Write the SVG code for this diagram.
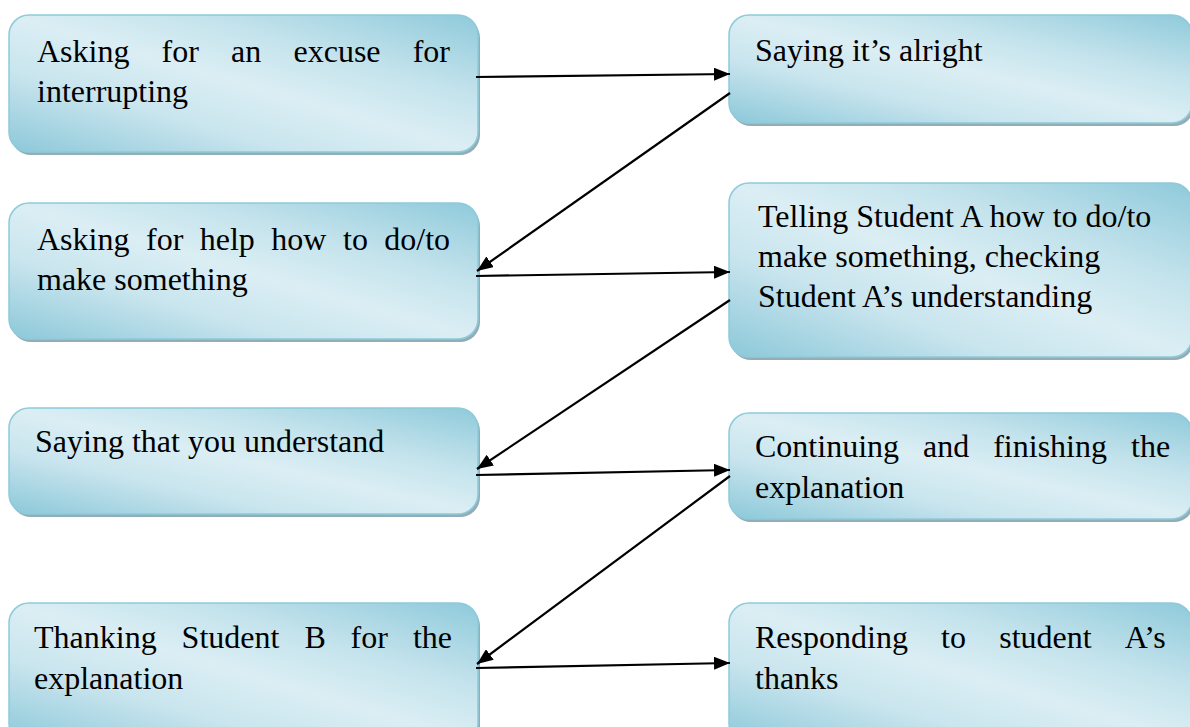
<svg xmlns="http://www.w3.org/2000/svg" width="1190" height="727" viewBox="0 0 1190 727">
  <defs>
    <linearGradient id="boxFill" x1="1" y1="0" x2="0" y2="1">
      <stop offset="0" stop-color="#8fcadb"/>
      <stop offset="0.3" stop-color="#c4e3ec"/>
      <stop offset="0.5" stop-color="#dbeef4"/>
      <stop offset="0.7" stop-color="#c9e5ee"/>
      <stop offset="1" stop-color="#8cc8d9"/>
    </linearGradient>
    <marker id="arrow" markerUnits="userSpaceOnUse" markerWidth="17" markerHeight="13" refX="16" refY="6.5" orient="auto">
      <path d="M0,0 L16,6.5 L0,13 z" fill="#000"/>
    </marker>
  </defs>
  <style>
    .shadow { fill: #93adb7; }
    .box { fill: url(#boxFill); stroke: #8dcada; stroke-width: 1.5; }
    .label { font-family: "Liberation Serif", "Times New Roman", serif; font-size: 32px; fill: #000; }
    .link { stroke: #000; stroke-width: 2.2; fill: none; marker-end: url(#arrow); }
  </style>
  <rect width="1190" height="727" fill="#fff"/>

  <!-- left column -->
  <g id="node-excuse">
    <rect class="shadow" x="11" y="18" width="469" height="137" rx="20"/>
    <rect class="box" x="9" y="15" width="469" height="137" rx="20"/>
    <text class="label"><tspan x="37" y="62">Asking</tspan><tspan x="161.6" y="62">for</tspan><tspan x="231.1" y="62">an</tspan><tspan x="293.5" y="62">excuse</tspan><tspan x="412.7" y="62">for</tspan><tspan x="37" y="102">interrupting</tspan></text>
  </g>
  <g id="node-ask-help">
    <rect class="shadow" x="11" y="206" width="469" height="136" rx="20"/>
    <rect class="box" x="9" y="203" width="469" height="136" rx="20"/>
    <text class="label"><tspan x="37" y="250">Asking</tspan><tspan x="146" y="250">for</tspan><tspan x="199.7" y="250">help</tspan><tspan x="271.3" y="250">how</tspan><tspan x="343" y="250">to</tspan><tspan x="384.3" y="250">do/to</tspan><tspan x="37" y="290">make something</tspan></text>
  </g>
  <g id="node-understand">
    <rect class="shadow" x="11" y="411" width="469" height="106" rx="20"/>
    <rect class="box" x="9" y="408" width="469" height="106" rx="20"/>
    <text class="label" x="35" y="452">Saying that you understand</text>
  </g>
  <g id="node-thanks">
    <rect class="shadow" x="11" y="606" width="469" height="140" rx="20"/>
    <rect class="box" x="9" y="603" width="469" height="140" rx="20"/>
    <text class="label"><tspan x="34" y="648">Thanking</tspan><tspan x="181.6" y="648">Student</tspan><tspan x="304.4" y="648">B</tspan><tspan x="350.6" y="648">for</tspan><tspan x="412.9" y="648">the</tspan><tspan x="34" y="689">explanation</tspan></text>
  </g>

  <!-- right column -->
  <g id="node-alright">
    <rect class="shadow" x="731" y="18" width="463" height="108" rx="20"/>
    <rect class="box" x="729" y="15" width="463" height="108" rx="20"/>
    <text class="label" x="755" y="61">Saying it’s alright</text>
  </g>
  <g id="node-telling">
    <rect class="shadow" x="731" y="186" width="463" height="174" rx="20"/>
    <rect class="box" x="729" y="183" width="463" height="174" rx="20"/>
    <text class="label"><tspan x="758" y="227">Telling Student A how to do/to</tspan><tspan x="758" y="267">make something, checking</tspan><tspan x="758" y="307">Student A’s understanding</tspan></text>
  </g>
  <g id="node-continuing">
    <rect class="shadow" x="731" y="416" width="463" height="106" rx="20"/>
    <rect class="box" x="729" y="413" width="463" height="106" rx="20"/>
    <text class="label"><tspan x="755" y="457">Continuing</tspan><tspan x="923" y="457">and</tspan><tspan x="993.2" y="457">finishing</tspan><tspan x="1131" y="457">the</tspan><tspan x="755" y="498">explanation</tspan></text>
  </g>
  <g id="node-responding">
    <rect class="shadow" x="731" y="606" width="463" height="140" rx="20"/>
    <rect class="box" x="729" y="603" width="463" height="140" rx="20"/>
    <text class="label"><tspan x="755" y="648">Responding</tspan><tspan x="941.1" y="648">to</tspan><tspan x="999.2" y="648">student</tspan><tspan x="1124.8" y="648">A’s</tspan><tspan x="755" y="689">thanks</tspan></text>
  </g>

  <!-- connectors -->
  <g id="connectors">
    <path class="link" d="M476,77 L730,74"/>
    <path class="link" d="M730,93 L477,271"/>
    <path class="link" d="M476,276 L730,272"/>
    <path class="link" d="M730,300 L477,469"/>
    <path class="link" d="M476,475 L730,470"/>
    <path class="link" d="M730,476 L477,664"/>
    <path class="link" d="M476,668 L730,663"/>
  </g>
</svg>
